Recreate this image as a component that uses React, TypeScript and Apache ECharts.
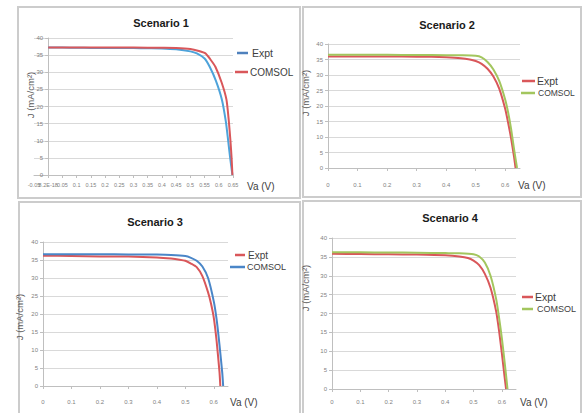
import React, { useEffect, useRef } from "react";
import * as echarts from "echarts";

// ---------- DATA ----------
const titles = ["Scenario 1", "Scenario 2", "Scenario 3", "Scenario 4"];
const yTicks = [0, 40, 5]; // min, max, interval
const xTitle = "Va (V)";
const yTitle = "J (mA/cm²)";

// Scenario 1
const s1ExptV = [0, 0.05, 0.1, 0.15, 0.2, 0.25, 0.3, 0.35, 0.4, 0.45, 0.5, 0.523, 0.55, 0.568, 0.59, 0.611, 0.625, 0.633, 0.64, 0.648];
const s1ExptJ = [37.2, 37.2, 37.15, 37.1, 37.1, 37.1, 37.05, 37.0, 36.95, 36.7, 36.1, 35.5, 34.0, 31.6, 27.5, 22.0, 15.5, 10.0, 5.0, 0];
const s1ComV = [0, 0.1, 0.2, 0.3, 0.4, 0.45, 0.5, 0.53, 0.553, 0.57, 0.588, 0.61, 0.627, 0.635, 0.641, 0.645, 0.648];
const s1ComJ = [37.2, 37.2, 37.2, 37.2, 37.15, 37.1, 36.8, 36.2, 35.5, 33.8, 31.6, 27.0, 22.0, 16.0, 10.0, 5.0, 0];

// Scenario 2
const s2ExptV = [0, 0.1, 0.2, 0.3, 0.35, 0.4, 0.45, 0.48, 0.5, 0.52, 0.54, 0.56, 0.58, 0.6, 0.61, 0.62, 0.63, 0.635];
const s2ExptJ = [36.0, 36.0, 36.0, 35.9, 35.85, 35.7, 35.4, 35.0, 34.5, 33.6, 32.0, 29.5, 25.5, 19.0, 14.5, 9.5, 3.5, 0];
const s2ComV = [0, 0.1, 0.2, 0.3, 0.4, 0.45, 0.5, 0.52, 0.54, 0.56, 0.58, 0.6, 0.61, 0.62, 0.63, 0.64];
const s2ComJ = [36.5, 36.5, 36.5, 36.45, 36.4, 36.35, 36.2, 35.7, 34.2, 31.8, 28.0, 22.0, 17.8, 12.5, 6.0, 0];

// Scenario 3
const s3ExptV = [0, 0.1, 0.2, 0.3, 0.4, 0.45, 0.48, 0.5, 0.52, 0.54, 0.56, 0.58, 0.59, 0.6, 0.61, 0.62, 0.623];
const s3ExptJ = [36.2, 36.1, 36.0, 35.95, 35.7, 35.4, 35.1, 34.8, 34.0, 33.0, 30.5, 26.0, 23.0, 19.0, 12.5, 4.0, 0];
const s3ComV = [0, 0.1, 0.2, 0.3, 0.4, 0.45, 0.5, 0.52, 0.54, 0.56, 0.58, 0.6, 0.61, 0.62, 0.63, 0.633];
const s3ComJ = [36.6, 36.6, 36.6, 36.55, 36.5, 36.4, 36.1, 35.6, 34.8, 33.2, 30.0, 23.5, 18.5, 11.5, 3.5, 0];

// Scenario 4
const s4ExptV = [0, 0.1, 0.2, 0.3, 0.4, 0.45, 0.48, 0.5, 0.52, 0.54, 0.56, 0.58, 0.59, 0.6, 0.61, 0.615];
const s4ExptJ = [35.8, 35.75, 35.7, 35.6, 35.4, 35.1, 34.7, 34.0, 32.8, 30.5, 26.8, 20.5, 15.5, 9.5, 3.0, 0];
const s4ComV = [0, 0.1, 0.2, 0.3, 0.4, 0.45, 0.5, 0.52, 0.54, 0.56, 0.58, 0.59, 0.6, 0.61, 0.62];
const s4ComJ = [36.2, 36.2, 36.15, 36.1, 36.0, 35.95, 35.7, 35.1, 33.5, 30.0, 23.8, 19.0, 13.5, 7.0, 0];

const legendNames = ["Expt", "COMSOL"];

// ---------- STYLE / LAYOUT ----------
const FONT = '"Liberation Sans", Arial, sans-serif';
const BLUE1 = "#4ea3da";
const BLUE3 = "#4a86c8";
const RED = "#d9575a";
const GREEN = "#a3c65e";

const zip = (v: number[], j: number[]) => v.map((x, i) => [x, j[i]]);

const panels = [
  {
    frame: [18, 7, 282, 191],
    grid: { left: 34, top: 38, width: 199, height: 137 },
    xMin: -0.05, xMax: 0.65, xInt: 0.05, xLabelMargin: 7,
    title: [161, 23], yTitle: [30, 95], xTitlePos: [247, 186],
    series: [
      { name: "Expt", v: s1ExptV, j: s1ExptJ, color: BLUE1 },
      { name: "COMSOL", v: s1ComV, j: s1ComJ, color: RED },
    ],
    legend: [
      { line: [237, 248, 53], text: [252, 53], size: 10.5, color: "#4f81bd" },
      { line: [235, 248, 72], text: [250, 72], size: 10, color: RED },
    ],
  },
  {
    frame: [303, 7, 278, 190],
    grid: { left: 328, top: 44, width: 192, height: 124 },
    xMin: 0, xMax: 0.65, xInt: 0.1, xLabelMargin: 14,
    title: [447, 25], yTitle: [305, 93], xTitlePos: [518, 185],
    series: [
      { name: "Expt", v: s2ExptV, j: s2ExptJ, color: RED },
      { name: "COMSOL", v: s2ComV, j: s2ComJ, color: GREEN },
    ],
    legend: [
      { line: [522, 535, 81], text: [537, 81], size: 10.5, color: RED },
      { line: [521, 535, 93], text: [538, 93], size: 8.5, color: GREEN },
    ],
  },
  {
    frame: [19, 202, 281, 215],
    grid: { left: 43, top: 242, width: 185, height: 144 },
    xMin: 0, xMax: 0.65, xInt: 0.1, xLabelMargin: 13,
    title: [155, 222], yTitle: [19, 317], xTitlePos: [230, 402],
    series: [
      { name: "Expt", v: s3ExptV, j: s3ExptJ, color: RED },
      { name: "COMSOL", v: s3ComV, j: s3ComJ, color: BLUE3 },
    ],
    legend: [
      { line: [235, 245, 255], text: [248, 255], size: 10, color: RED },
      { line: [230, 245, 267], text: [247, 267], size: 9, color: BLUE3 },
    ],
  },
  {
    frame: [303, 201, 278, 216],
    grid: { left: 332, top: 238, width: 184, height: 151 },
    xMin: 0, xMax: 0.65, xInt: 0.1, xLabelMargin: 10,
    title: [450, 218], yTitle: [305, 288], xTitlePos: [520, 402],
    series: [
      { name: "Expt", v: s4ExptV, j: s4ExptJ, color: RED },
      { name: "COMSOL", v: s4ComV, j: s4ComJ, color: GREEN },
    ],
    legend: [
      { line: [522, 533, 297], text: [535, 297], size: 10.5, color: RED },
      { line: [522, 533, 309], text: [537, 309], size: 9, color: GREEN },
    ],
  },
];

function fmtX1(v: number) {
  if (Math.abs(v) < 1e-9) return "8.2E-18";
  return String(Math.round(v * 100) / 100);
}

export default function App() {
  const ref = useRef<HTMLDivElement>(null);
  useEffect(() => {
    if (!ref.current) return;
    const chart = echarts.init(ref.current, null, { renderer: "svg" });

    const grids: any[] = [];
    const xAxes: any[] = [];
    const yAxes: any[] = [];
    const series: any[] = [];
    const graphics: any[] = [];

    panels.forEach((p, i) => {
      const [fx, fy, fw, fh] = p.frame;
      graphics.push({
        type: "rect",
        z: -10,
        shape: { x: fx, y: fy, width: fw, height: fh },
        style: { fill: "#ffffff", stroke: "#cccccc", lineWidth: 2 },
      });
      graphics.push({
        type: "text",
        x: p.title[0],
        y: p.title[1],
        style: {
          text: titles[i],
          font: `bold 11px ${FONT}`,
          fill: "#1a1a1a",
          textAlign: "center",
          textVerticalAlign: "middle",
        },
      });
      graphics.push({
        type: "text",
        x: p.yTitle[0],
        y: p.yTitle[1],
        rotation: Math.PI / 2,
        style: {
          text: yTitle,
          font: `9.5px ${FONT}`,
          fill: "#595959",
          textAlign: "center",
          textVerticalAlign: "middle",
        },
      });
      graphics.push({
        type: "text",
        x: p.xTitlePos[0],
        y: p.xTitlePos[1],
        style: {
          text: xTitle,
          font: `10px ${FONT}`,
          fill: "#404040",
          textAlign: "left",
          textVerticalAlign: "middle",
        },
      });
      p.legend.forEach((lg, k) => {
        graphics.push({
          type: "line",
          shape: { x1: lg.line[0], y1: lg.line[2], x2: lg.line[1], y2: lg.line[2] },
          style: { stroke: lg.color, lineWidth: 2.5 },
        });
        graphics.push({
          type: "text",
          x: lg.text[0],
          y: lg.text[1],
          style: {
            text: legendNames[k],
            font: `${lg.size}px ${FONT}`,
            fill: "#404040",
            textAlign: "left",
            textVerticalAlign: "middle",
          },
        });
      });

      // y axis crosses at x = 0 (shift from the grid's left edge)
      const zeroOffset = -p.grid.width * (0 - p.xMin) / (p.xMax - p.xMin);

      grids.push({ ...p.grid, containLabel: false });
      xAxes.push({
        type: "value",
        gridIndex: i,
        position: "bottom",
        min: p.xMin,
        max: p.xMax,
        interval: p.xInt,
        axisLine: { onZero: false, lineStyle: { color: "#bfbfbf", width: 1 } },
        axisTick: { show: true, length: 3, lineStyle: { color: "#bfbfbf" } },
        splitLine: { show: false },
        axisLabel: {
          fontSize: i === 0 ? 5.5 : 6,
          fontFamily: FONT,
          color: "#7f7f7f",
          margin: p.xLabelMargin,
          showMaxLabel: i === 0,
          hideOverlap: false,
          formatter: (v: number) => {
            if (i === 0) return fmtX1(v);
            if (v > 0.61) return "";
            return String(Math.round(v * 10) / 10);
          },
        },
      });
      yAxes.push({
        type: "value",
        gridIndex: i,
        min: yTicks[0],
        max: yTicks[1],
        interval: yTicks[2],
        offset: zeroOffset,
        axisLine: { show: true, onZero: false, lineStyle: { color: "#bfbfbf", width: 1 } },
        axisTick: { show: true, length: 3, lineStyle: { color: "#bfbfbf" } },
        splitLine: { show: true, lineStyle: { color: "#d9d9d9", width: 1 } },
        axisLabel: {
          fontSize: 6,
          fontFamily: FONT,
          color: "#7f7f7f",
          margin: 5,
        },
      });
      p.series.forEach((s) => {
        series.push({
          type: "line",
          name: s.name,
          xAxisIndex: i,
          yAxisIndex: i,
          data: zip(s.v, s.j),
          showSymbol: false,
          smooth: 0.2,
          lineStyle: { color: s.color, width: 2 },
          itemStyle: { color: s.color },
        });
      });
    });

    // extra label-only axis in panel 1, so the overlapping min label (-0.05) is shown too
    const p0 = panels[0];
    xAxes.push({
      type: "value",
      gridIndex: 0,
      position: "bottom",
      min: p0.xMin,
      max: p0.xMax,
      interval: p0.xInt,
      axisLine: { show: false, onZero: false },
      axisTick: { show: false },
      splitLine: { show: false },
      axisLabel: {
        fontSize: 5.5,
        fontFamily: FONT,
        color: "#7f7f7f",
        margin: p0.xLabelMargin,
        showMinLabel: true,
        showMaxLabel: false,
        formatter: (v: number) => (v < p0.xMin + 1e-6 ? fmtX1(v) : ""),
      },
    });

    chart.setOption({
      animation: false,
      backgroundColor: "#ffffff",
      grid: grids,
      xAxis: xAxes,
      yAxis: yAxes,
      series,
      graphic: graphics,
    });
    return () => chart.dispose();
  }, []);
  return (
    <div
      ref={ref}
      style={{ position: "fixed", left: 0, top: 0, width: 584, height: 413 }}
    />
  );
}
